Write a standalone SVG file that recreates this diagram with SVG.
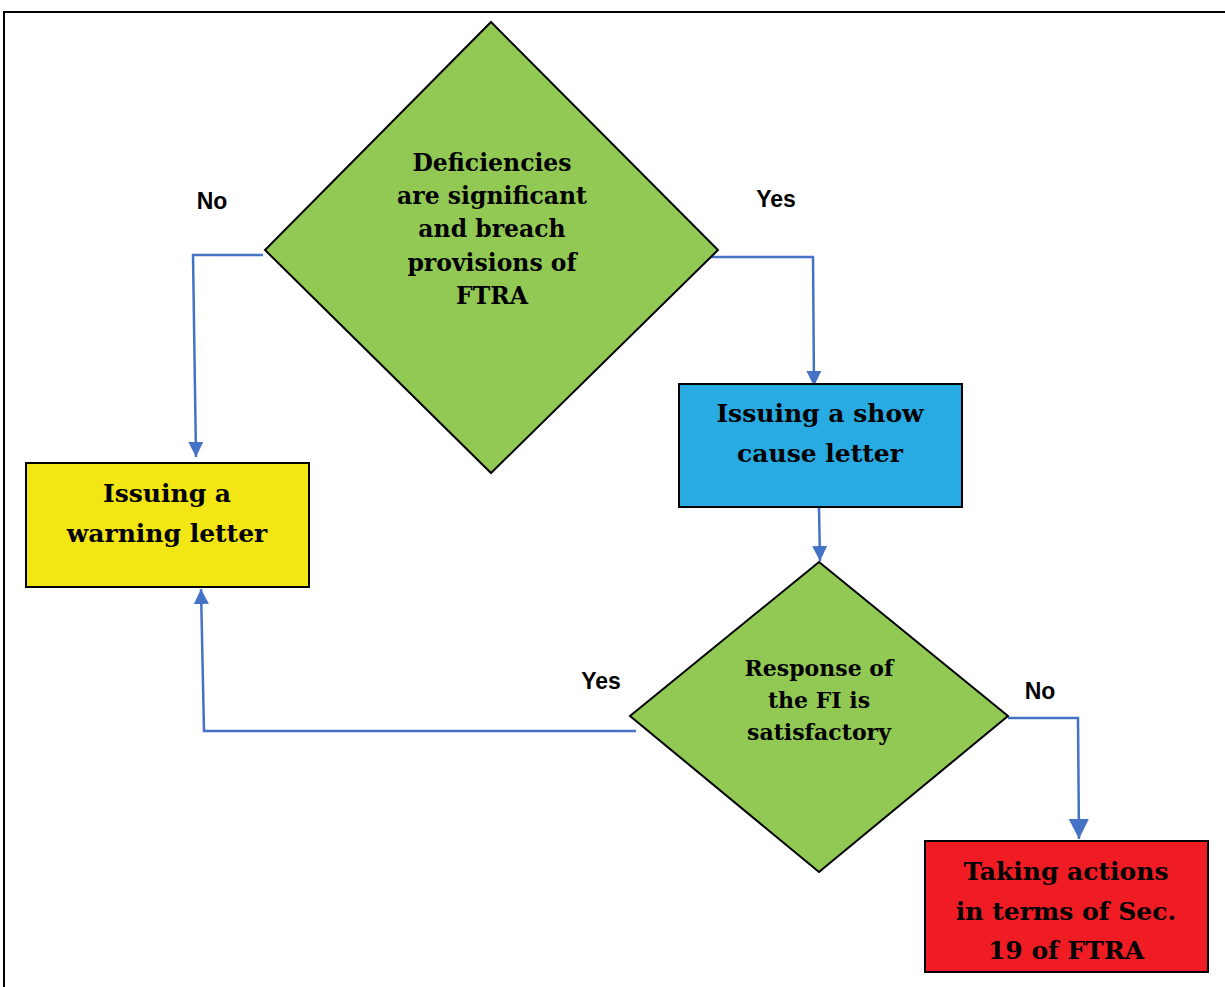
<svg xmlns="http://www.w3.org/2000/svg" width="1225" height="987" viewBox="0 0 1225 987">
<defs>
<marker id="ah" viewBox="0 0 10 10" refX="10" refY="5" markerWidth="6" markerHeight="6" markerUnits="strokeWidth" orient="auto"><path d="M0,0 L10,5 L0,10 z" fill="#4472c4"/></marker>
<marker id="ah2" viewBox="0 0 10 10" refX="10" refY="5" markerWidth="8" markerHeight="8" markerUnits="strokeWidth" orient="auto"><path d="M0,0 L10,5 L0,10 z" fill="#4472c4"/></marker>
<style>
.shape{stroke:#000;stroke-width:2}
.t{font-family:"DejaVu Serif","Liberation Serif",serif;font-weight:bold;fill:#000;text-anchor:middle}
.lbl{font-family:"Liberation Sans",Arial,sans-serif;font-weight:bold;font-size:23px;fill:#000;text-anchor:middle}
.c{fill:none;stroke:#4472c4;stroke-width:2.5}
</style>
</defs>
<rect width="1225" height="987" fill="#fff"/>
<rect x="4" y="12" width="1240" height="1000" fill="none" stroke="#000" stroke-width="2"/>
<g id="connectors">
<polyline class="c" points="263,255 193,255 196,457" marker-end="url(#ah)"/>
<polyline class="c" points="708,257 813,257 814,386" marker-end="url(#ah)"/>
<polyline class="c" points="819,507 820,561" marker-end="url(#ah)"/>
<polyline class="c" points="636,731 204,731 201,589" marker-end="url(#ah)"/>
<polyline class="c" points="1008,718 1078,718 1079,839" stroke-width="1.8" marker-end="url(#ah2)"/>
</g>
<g id="d1">
<polygon class="shape" points="491,22 718,250 491,473 265,250" fill="#92c955"/>
<text class="t" font-size="23.5" x="492" y="171">Deficiencies</text>
<text class="t" font-size="23.5" x="492" y="204">are significant</text>
<text class="t" font-size="23.5" x="492" y="237">and breach</text>
<text class="t" font-size="23.5" x="492" y="271">provisions of</text>
<text class="t" font-size="23.5" x="492" y="304">FTRA</text>
</g>
<g id="warning">
<rect class="shape" x="26" y="463" width="283" height="124" fill="#f2e614"/>
<text class="t" font-size="25" x="167" y="502">Issuing a</text>
<text class="t" font-size="25" x="167" y="542">warning letter</text>
</g>
<g id="showcause">
<rect class="shape" x="679" y="384" width="283" height="123" fill="#27abe2"/>
<text class="t" font-size="25" x="820" y="422">Issuing a show</text>
<text class="t" font-size="25" x="820" y="462">cause letter</text>
</g>
<g id="d2">
<polygon class="shape" points="819,562 1008,716 819,872 630,716" fill="#92c955"/>
<text class="t" font-size="22" x="819" y="676">Response of</text>
<text class="t" font-size="22" x="819" y="708">the FI is</text>
<text class="t" font-size="22" x="819" y="740">satisfactory</text>
</g>
<g id="actions">
<rect class="shape" x="925" y="841" width="283" height="131" fill="#ef1c24"/>
<text class="t" font-size="25" x="1066" y="880">Taking actions</text>
<text class="t" font-size="25" x="1066" y="920">in terms of Sec.</text>
<text class="t" font-size="25" x="1066" y="959">19 of FTRA</text>
</g>
<g id="labels">
<text class="lbl" x="212" y="209">No</text>
<text class="lbl" x="776" y="207">Yes</text>
<text class="lbl" x="601" y="689">Yes</text>
<text class="lbl" x="1040" y="699">No</text>
</g>
</svg>
